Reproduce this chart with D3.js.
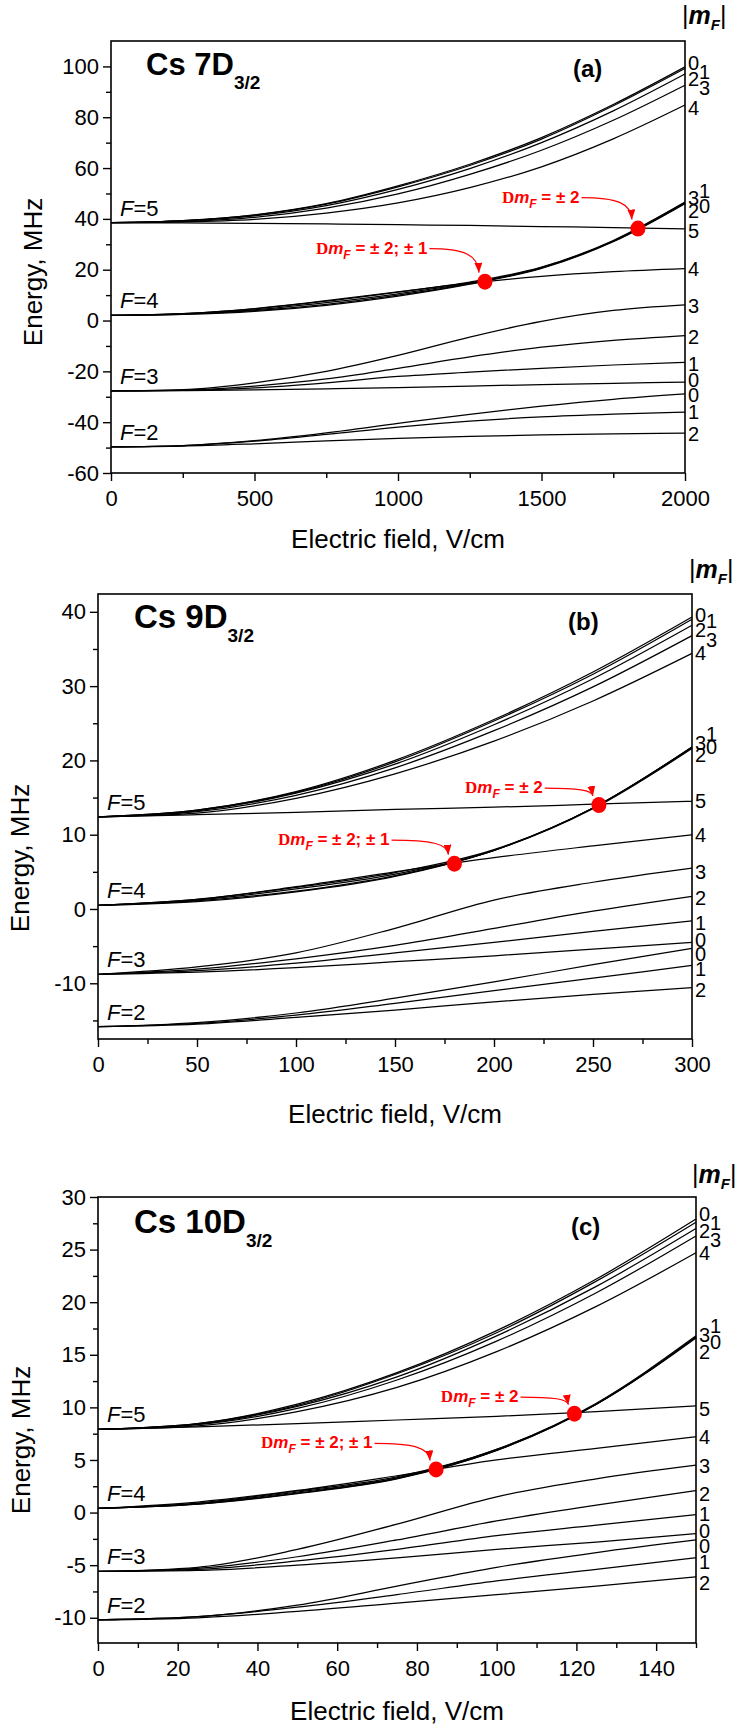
<!DOCTYPE html>
<html>
<head>
<meta charset="utf-8">
<script src="https://cdn.jsdelivr.net/npm/d3@7"></script>
<style>
  body { margin: 0; background: #fff; }
  text { font-family: "Liberation Sans", Arial, sans-serif; }
</style>
</head>
<body>
<svg id="fig" width="736" height="1730"></svg>
<script>
//////////////////// data (MHz vs V/cm) ////////////////////

// panel (a) Cs 7D3/2
var fieldA = [0, 250, 500, 750, 1000, 1250, 1500, 1750, 2000];
var a_F5 = [
  [38.5, 39.3, 41.6, 46.0, 53.0, 61.5, 72.0, 85.0, 99.8],   // |mF| 0
  [38.5, 39.3, 41.5, 45.8, 52.6, 61.0, 71.4, 84.5, 99.2],   // 1
  [38.5, 39.2, 41.2, 45.2, 51.6, 59.8, 70.0, 82.5, 97.0],   // 2
  [38.5, 39.0, 40.6, 44.2, 49.8, 57.5, 67.0, 78.8, 92.6],   // 3
  [38.5, 38.8, 39.8, 42.3, 46.3, 52.3, 60.5, 71.5, 84.8],   // 4
  [38.5, 38.4, 38.2, 38.0, 37.7, 37.4, 37.0, 36.6, 36.1]    // 5
];
var a_F4 = [
  [2.0, 2.4, 3.6, 6.0, 9.6, 14.3, 20.5, 31.0, 46.0],
  [2.0, 2.5, 3.9, 6.4, 10.0, 14.5, 20.7, 31.2, 46.3],
  [2.0, 2.6, 4.2, 7.0, 10.5, 14.8, 20.8, 31.3, 46.4],
  [2.0, 2.7, 4.6, 7.6, 11.2, 15.1, 21.0, 31.5, 46.6],
  [2.0, 2.7, 4.7, 7.8, 11.3, 14.7, 17.4, 19.2, 20.4]
];
var a_F3 = [
  [-27.7, -27.6, -27.3, -26.9, -26.4, -25.8, -25.2, -24.7, -24.2],
  [-27.7, -27.5, -26.5, -24.5, -22.0, -20.3, -18.8, -17.5, -16.5],
  [-27.7, -27.4, -25.8, -23.0, -18.8, -14.3, -10.5, -7.8, -5.9],
  [-27.7, -27.2, -24.5, -20.0, -13.7, -6.5, -0.3, 4.0, 6.2]
];
var a_F2 = [
  [-49.7, -49.2, -47.3, -44.2, -40.5, -36.9, -33.7, -31.0, -28.9],
  [-49.7, -49.2, -47.5, -44.8, -41.9, -39.6, -37.9, -36.8, -36.0],
  [-49.7, -49.4, -48.5, -47.4, -46.4, -45.6, -45.0, -44.6, -44.3]
];
var a_mfLabels = [
  ["0", 101.3, 0], ["1", 98, 1], ["2", 95.2, 0], ["3", 91.5, 1], ["4", 83.6, 0],
  ["1", 51, 1], ["3", 48.4, 0], ["0", 45.1, 1], ["2", 43.1, 0], ["5", 35.3, 0], ["4", 20.4, 0],
  ["3", 5.9, 0], ["2", -6.5, 0], ["1", -16.9, 0], ["0", -23.5, 0], ["0", -29.4, 0], ["1", -36, 0], ["2", -44.4, 0]
];
var a_dots = [[1303, 15.3], [1836, 36.2]];
var a_notes = [["± 2; ± 1", 714, 26.3, 0], ["± 2", 1362, 46.4, 1]];
var a_xTicks = [0, 500, 1000, 1500, 2000], a_xMinor = [250, 750, 1250, 1750];
var a_yTicks = [-60, -40, -20, 0, 20, 40, 60, 80, 100], a_yMinor = [-50, -30, -10, 10, 30, 50, 70, 90];

// panel (b) Cs 9D3/2
var fieldB = [0, 50, 100, 150, 200, 250, 300];
var b_F5 = [
  [12.4, 13.3, 15.8, 20.0, 25.5, 31.9, 39.3],
  [12.4, 13.3, 15.7, 19.8, 25.3, 31.6, 39.0],
  [12.4, 13.2, 15.6, 19.5, 24.8, 31.0, 38.2],
  [12.4, 13.1, 15.3, 19.0, 24.0, 29.9, 36.8],
  [12.4, 12.9, 14.9, 18.2, 22.6, 28.0, 34.4],
  [12.4, 12.7, 13.0, 13.4, 13.7, 14.1, 14.5]
];
var b_F4 = [
  [0.5, 1.0, 2.3, 4.4, 7.9, 13.6, 21.8],
  [0.5, 1.1, 2.4, 4.5, 7.9, 13.6, 21.7],
  [0.5, 1.2, 2.7, 4.7, 7.9, 13.5, 21.6],
  [0.5, 1.3, 2.9, 4.9, 8.0, 13.6, 21.8],
  [0.5, 1.3, 3.0, 5.0, 6.9, 8.5, 10.0]
];
var b_F3 = [
  [-8.8, -8.5, -7.9, -7.1, -6.3, -5.4, -4.5],
  [-8.8, -8.3, -7.3, -5.9, -4.5, -3.0, -1.6],
  [-8.8, -8.1, -6.7, -4.9, -2.6, -0.3, 1.7],
  [-8.8, -7.8, -5.9, -2.6, 1.2, 3.6, 5.5]
];
var b_F2 = [
  [-15.85, -15.3, -14.0, -12.0, -9.8, -7.5, -5.3],
  [-15.85, -15.4, -14.3, -12.7, -11.0, -9.3, -7.6],
  [-15.85, -15.5, -14.6, -13.6, -12.5, -11.5, -10.6]
];
var b_mfLabels = [
  ["0", 39.6, 0], ["1", 38.8, 1], ["2", 37.6, 0], ["3", 36.3, 1], ["4", 34.5, 0],
  ["1", 23.6, 1], ["3", 22.4, 0], ["0", 21.8, 1], ["2", 20.8, 0], ["5", 14.5, 0], ["4", 10.0, 0],
  ["3", 5.0, 0], ["2", 1.5, 0], ["1", -1.8, 0], ["0", -4.1, 0], ["0", -6.0, 0], ["1", -8.0, 0], ["2", -10.9, 0]
];
var b_dots = [[180, 6.1], [253, 14.0]];
var b_notes = [["± 2; ± 1", 90.9, 8.6, 0], ["± 2", 185.4, 15.6, 1]];
var b_xTicks = [0, 50, 100, 150, 200, 250, 300], b_xMinor = [25, 75, 125, 175, 225, 275];
var b_yTicks = [-10, 0, 10, 20, 30, 40], b_yMinor = [-15, -5, 5, 15, 25, 35];

// panel (c) Cs 10D3/2
var fieldC = [0, 25, 50, 75, 100, 125, 150];
var c_F5 = [
  [7.9, 8.45, 10.3, 13.3, 17.3, 22.2, 27.9],
  [7.9, 8.45, 10.2, 13.2, 17.1, 22.0, 27.6],
  [7.9, 8.4, 10.1, 12.9, 16.8, 21.5, 27.0],
  [7.9, 8.35, 9.9, 12.6, 16.3, 20.9, 26.3],
  [7.9, 8.25, 9.6, 11.9, 15.3, 19.6, 24.7],
  [7.9, 8.15, 8.45, 8.8, 9.15, 9.6, 10.15]
];
var c_F4 = [
  [0.4, 0.8, 1.8, 3.2, 5.9, 10.3, 16.7],
  [0.4, 0.8, 1.85, 3.25, 5.9, 10.3, 16.7],
  [0.4, 0.85, 1.95, 3.3, 6.0, 10.3, 16.6],
  [0.4, 0.9, 2.05, 3.4, 6.0, 10.4, 16.8],
  [0.4, 1.0, 2.1, 3.5, 5.0, 6.1, 7.2]
];
var c_F3 = [
  [-5.6, -5.5, -5.0, -4.3, -3.5, -2.8, -2.0],
  [-5.6, -5.4, -4.6, -3.5, -2.2, -1.2, -0.2],
  [-5.6, -5.3, -4.2, -2.6, -0.8, 0.7, 2.1],
  [-5.6, -5.2, -3.5, -1.1, 1.5, 3.2, 4.5]
];
var c_F2 = [
  [-10.2, -9.9, -8.8, -7.0, -5.2, -3.8, -2.6],
  [-10.2, -9.9, -9.0, -7.8, -6.5, -5.4, -4.3],
  [-10.2, -10.0, -9.4, -8.6, -7.8, -7.0, -6.1]
];
var c_mfLabels = [
  ["0", 28.4, 0], ["1", 27.5, 1], ["2", 26.8, 0], ["3", 25.9, 1], ["4", 24.7, 0],
  ["1", 17.8, 1], ["3", 16.9, 0], ["0", 16.2, 1], ["2", 15.3, 0], ["5", 9.9, 0], ["4", 7.2, 0],
  ["3", 4.4, 0], ["2", 1.8, 0], ["1", -0.1, 0], ["0", -1.7, 0], ["0", -3.2, 0], ["1", -4.7, 0], ["2", -6.7, 0]
];
var c_dots = [[84.8, 4.1], [119.5, 9.4]];
var c_notes = [["± 2; ± 1", 40.9, 6.1, 0], ["± 2", 86, 10.5, 1]];
var c_xTicks = [0, 20, 40, 60, 80, 100, 120, 140], c_xMinor = [10, 30, 50, 70, 90, 110, 130, 150];
var c_yTicks = [-10, -5, 0, 5, 10, 15, 20, 25, 30], c_yMinor = [-7.5, -2.5, 2.5, 7.5, 12.5, 17.5, 22.5, 27.5];

//////////////////// layout of the three panels ////////////////////

var panels = [
  { field: fieldA, groups: [a_F5, a_F4, a_F3, a_F2], fNames: ["5", "4", "3", "2"],
    mf: a_mfLabels, dots: a_dots, notes: a_notes,
    xTicks: a_xTicks, xMinor: a_xMinor, yTicks: a_yTicks, yMinor: a_yMinor,
    xDomain: [0, 2000], yDomain: [-60, 110],
    left: 111, right: 685, top: 41, bottom: 473,
    yTitleX: 33, yTitleY: 272, xTitleY: 548,
    title: "Cs 7D", titleX: 146, titleY: 75, titleSize: 31,
    tag: "(a)", tagX: 573, tagY: 77, mfX: 682, mfY: 24 },
  { field: fieldB, groups: [b_F5, b_F4, b_F3, b_F2], fNames: ["5", "4", "3", "2"],
    mf: b_mfLabels, dots: b_dots, notes: b_notes,
    xTicks: b_xTicks, xMinor: b_xMinor, yTicks: b_yTicks, yMinor: b_yMinor,
    xDomain: [0, 300], yDomain: [-17.5, 42.4],
    left: 98, right: 692, top: 594, bottom: 1039,
    yTitleX: 20, yTitleY: 858, xTitleY: 1123,
    title: "Cs 9D", titleX: 134, titleY: 628, titleSize: 33,
    tag: "(b)", tagX: 568, tagY: 630, mfX: 689, mfY: 578 },
  { field: fieldC, groups: [c_F5, c_F4, c_F3, c_F2], fNames: ["5", "4", "3", "2"],
    mf: c_mfLabels, dots: c_dots, notes: c_notes,
    xTicks: c_xTicks, xMinor: c_xMinor, yTicks: c_yTicks, yMinor: c_yMinor,
    xDomain: [0, 150], yDomain: [-12.4, 30],
    left: 98, right: 696, top: 1197, bottom: 1643,
    yTitleX: 21, yTitleY: 1440, xTitleY: 1720,
    title: "Cs 10D", titleX: 134, titleY: 1233, titleSize: 33,
    tag: "(c)", tagX: 571, tagY: 1235, mfX: 692, mfY: 1183 }
];

var svg = d3.select("#fig");

// red arrow head
svg.append("defs").append("marker")
  .attr("id", "head")
  .attr("markerUnits", "userSpaceOnUse")
  .attr("markerWidth", 10).attr("markerHeight", 8)
  .attr("refX", 10).attr("refY", 4)
  .attr("orient", "auto")
  .append("path").attr("d", "M0,0 L10,4 L0,8 Z").attr("fill", "red");

panels.forEach(drawPanel);

function drawPanel(p) {
  var x = d3.scaleLinear().domain(p.xDomain).range([p.left, p.right]);
  var y = d3.scaleLinear().domain(p.yDomain).range([p.bottom, p.top]);
  var g = svg.append("g");

  // energy level curves
  var line = d3.line()
    .x((d, i) => x(p.field[i]))
    .y(d => y(d))
    .curve(d3.curveMonotoneX);

  p.groups.forEach(function (grp) {
    grp.forEach(function (c) {
      g.append("path").attr("d", line(c))
        .attr("fill", "none").attr("stroke", "#000").attr("stroke-width", 1.25);
    });
  });

  // axes (ticks outward) + frame
  function styleAxis(sel) {
    sel.select(".domain").remove();
    sel.selectAll("line").attr("stroke", "#000").attr("stroke-width", 1.4);
    sel.attr("font-size", 22).attr("font-family", "Liberation Sans, Arial, sans-serif");
    sel.selectAll("text").attr("fill", "#000");
  }
  g.append("g").attr("transform", `translate(0,${p.bottom})`)
    .call(d3.axisBottom(x).tickValues(p.xTicks).tickSize(8).tickPadding(9).tickFormat(d => String(d)))
    .call(styleAxis);
  g.append("g").attr("transform", `translate(0,${p.bottom})`)
    .call(d3.axisBottom(x).tickValues(p.xMinor).tickSize(5).tickFormat(""))
    .call(styleAxis);
  g.append("g").attr("transform", `translate(${p.left},0)`)
    .call(d3.axisLeft(y).tickValues(p.yTicks).tickSize(8).tickPadding(4).tickFormat(d => String(d)))
    .call(styleAxis);
  g.append("g").attr("transform", `translate(${p.left},0)`)
    .call(d3.axisLeft(y).tickValues(p.yMinor).tickSize(5).tickFormat(""))
    .call(styleAxis);

  g.append("rect")
    .attr("x", p.left).attr("y", p.top)
    .attr("width", p.right - p.left).attr("height", p.bottom - p.top)
    .attr("fill", "none").attr("stroke", "#000").attr("stroke-width", 1.6);

  // axis titles
  g.append("text")
    .attr("transform", `translate(${p.yTitleX},${p.yTitleY}) rotate(-90)`)
    .attr("text-anchor", "middle").attr("dy", "0.35em")
    .attr("font-size", 26).text("Energy, MHz");
  g.append("text")
    .attr("x", (p.left + p.right) / 2).attr("y", p.xTitleY)
    .attr("text-anchor", "middle").attr("font-size", 26)
    .text("Electric field, V/cm");

  // F = ... labels at the zero-field levels
  p.groups.forEach(function (grp, k) {
    var t = g.append("text")
      .attr("x", p.left + 9).attr("y", y(grp[0][0]) - 7)
      .attr("font-size", 22);
    t.append("tspan").attr("font-style", "italic").text("F");
    t.append("tspan").text("=" + p.fNames[k]);
  });

  // |mF| labels on the right
  g.selectAll(null).data(p.mf).enter().append("text")
    .attr("x", d => p.right + (d[2] ? 14 : 3))
    .attr("y", d => y(d[1]))
    .attr("dy", "0.36em")
    .attr("font-size", 20)
    .text(d => d[0]);

  var head = g.append("text").attr("x", p.mfX).attr("y", p.mfY).attr("font-size", 25);
  head.append("tspan").text("|");
  head.append("tspan").attr("font-weight", "bold").attr("font-style", "italic").text("m");
  head.append("tspan").attr("font-weight", "bold").attr("font-style", "italic")
    .attr("font-size", 15).attr("dy", 6).text("F");
  head.append("tspan").attr("dy", -6).text("|");

  // title and panel tag
  var tt = g.append("text").attr("x", p.titleX).attr("y", p.titleY)
    .attr("font-size", p.titleSize).attr("font-weight", "bold").text(p.title);
  tt.append("tspan").attr("font-size", 19).attr("dy", 14).text("3/2");
  g.append("text").attr("x", p.tagX).attr("y", p.tagY)
    .attr("font-size", 24).attr("font-weight", "bold").text(p.tag);

  // crossing points, notes and arrows
  p.notes.forEach(function (n) {
    var t = g.append("text").attr("x", x(n[1])).attr("y", y(n[2]))
      .attr("fill", "red").attr("font-size", 17).attr("font-weight", "bold");
    t.append("tspan").attr("font-family", "Liberation Serif, serif").text("D");
    t.append("tspan").attr("font-style", "italic").text("m");
    t.append("tspan").attr("font-style", "italic").attr("font-size", 12).attr("dy", 5).text("F");
    t.append("tspan").attr("dy", -5).text(" = " + n[0]);

    var bb = t.node().getBBox();
    var sx = bb.x + bb.width + 2, sy = y(n[2]) - 5;
    var d = p.dots[n[3]];
    var ex = x(d[0]) - 6, ey = y(d[1]) - 9;
    var path = d3.path();
    path.moveTo(sx, sy);
    path.bezierCurveTo(sx + 0.7 * (ex - sx), sy, ex - 1, sy + 0.25 * (ey - sy), ex, ey);
    g.append("path").attr("d", path.toString())
      .attr("fill", "none").attr("stroke", "red").attr("stroke-width", 1.2)
      .attr("marker-end", "url(#head)");
  });

  g.selectAll(null).data(p.dots).enter().append("ellipse")
    .attr("cx", d => x(d[0])).attr("cy", d => y(d[1]))
    .attr("rx", 7.5).attr("ry", 8)
    .attr("fill", "red");
}
</script>
</body>
</html>
